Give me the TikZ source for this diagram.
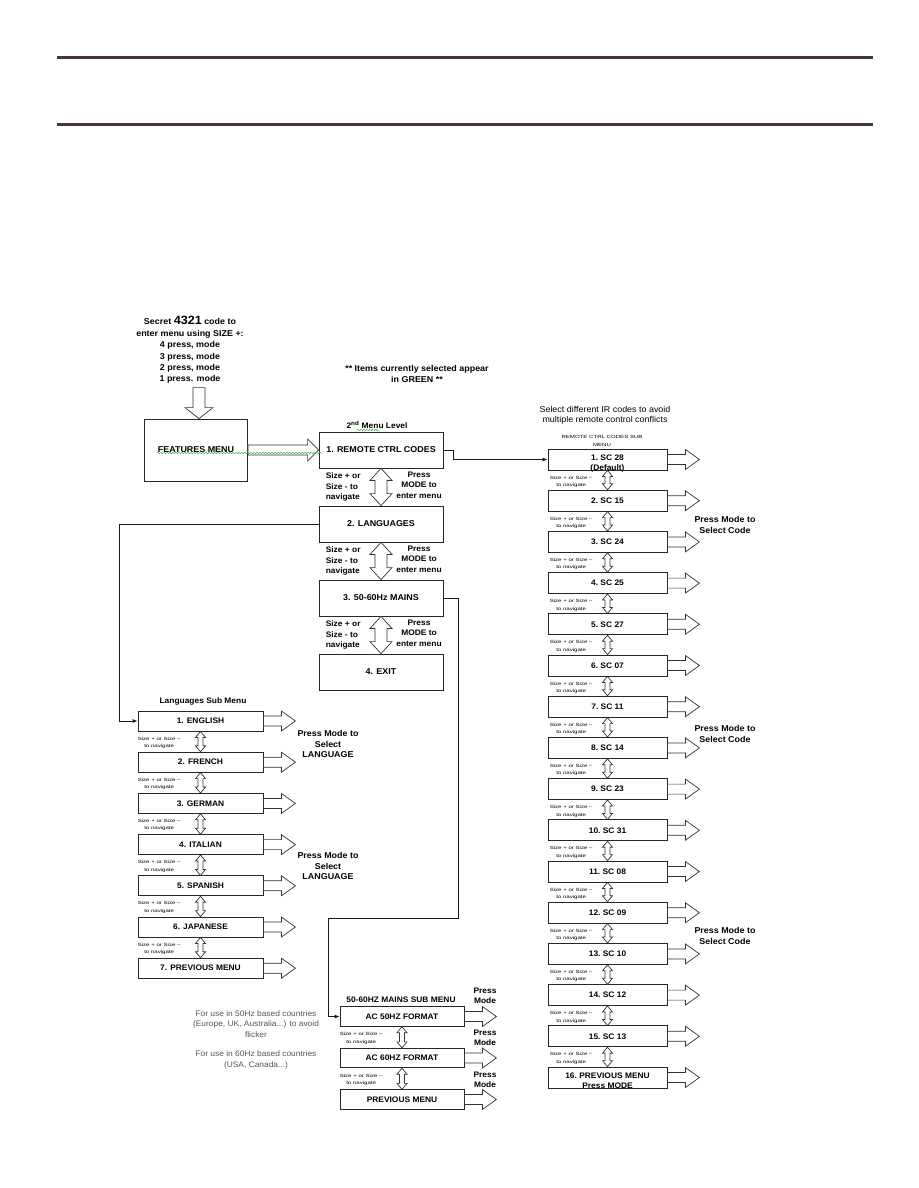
\documentclass[tikz,border=0pt]{standalone}
\usepackage{fontspec}
\setmainfont{Liberation Sans}[FakeStretch=1.05]
\newfontfamily\tinysf[FakeStretch=1.35]{Liberation Sans}
\usepackage{xcolor}
\usetikzlibrary{arrows.meta,positioning,calc,decorations.pathmorphing}

\definecolor{rulecol}{RGB}{72,52,60}
\definecolor{notegrey}{RGB}{85,85,85}
\definecolor{spellgreen}{RGB}{60,170,60}

% hollow double arrow between two stacked boxes
\newcommand{\updown}[5]{%
  \draw[blk] (#1.south) -- ++(#3,#5) -- ++(#4-#3,0) -- ($(#2.north)+(#4,-#5)$)
    -- ++(#3-#4,0) -- (#2.north) -- ++(-#3,-#5) -- ++(#3-#4,0)
    -- ($(#1.south)+(-#4,#5)$) -- ++(#4-#3,0) -- cycle;}
% two lines that hang low in a small box
\newcommand{\lowpair}[2]{\raisebox{-6.5pt}[4pt][4pt]{\begin{tabular}{@{}c@{}}#1\\[1pt]#2\end{tabular}}}

\begin{document}
\begin{tikzpicture}[
  x=1pt, y=-1pt,
  mainbox/.style={draw=black!85, line width=0.8pt, minimum width=124pt,
                  minimum height=36pt, inner sep=0pt,
                  font=\fontsize{8.5}{10}\selectfont\bfseries},
  langbox/.style={mainbox, minimum width=125pt, minimum height=20pt,
                  font=\fontsize{8}{9}\selectfont\bfseries},
  scbox/.style={langbox, minimum width=119pt, minimum height=21pt},
  acbox/.style={langbox, minimum width=124pt, minimum height=19.5pt},
  blk/.style={draw=black!80, line width=0.7pt, fill=white},
  conn/.style={draw=black!90, line width=0.8pt, -{Latex[length=5pt, width=4pt]}},
  navtxt/.style={font=\tinysf\fontsize{4.5}{7.5}\selectfont, align=center, inner sep=0pt},
  bignav/.style={font=\fontsize{8}{10.5}\selectfont\bfseries, align=left, inner sep=0pt},
  hint/.style={font=\fontsize{8.5}{10.5}\selectfont\bfseries, align=center, inner sep=0pt},
  remark/.style={font=\fontsize{8.5}{10}\selectfont, align=center, inner sep=0pt},
  rule/.style={draw=rulecol, line width=3pt},
  wavy/.style={draw=spellgreen, line width=0.5pt, decorate,
               decoration={snake, amplitude=0.6pt, segment length=3pt}},
  goarrow/.pic={\draw[blk] (0,-5) -- (18,-5) -- (18,-10) -- (32,0) -- (18,10)
                -- (18,5) -- (0,5) -- cycle;}
]
  \useasboundingbox (0,0) rectangle (918,1188);

  % header rules
  \draw[rule] (57,58) -- (873,58);
  \draw[rule] (57,125) -- (873,125);

  % entry
  \node[hint, font=\fontsize{8.5}{11.4}\selectfont\bfseries] (secret) at (190,350)
    {Secret {\fontsize{12}{12}\selectfont 4321} code to\\enter menu using SIZE +:\\
     4 press, mode\\3 press, mode\\2 press, mode\\1 press. mode};
  \node[hint] (items) at (417,374) {** Items currently selected appear\\in GREEN **};

  \node[mainbox, minimum width=103pt, minimum height=62pt] (feat) at (196,450) {FEATURES MENU};
  \draw[blk] ($(feat.north)+(3,0)$) -- ++(-14,-11) -- ++(8,0) -- ++(0,-20)
    -- ++(12,0) -- ++(0,20) -- ++(8,0) -- cycle;

  % 2nd menu level
  \node[hint, font=\fontsize{8}{10}\selectfont\bfseries] (level) at (377,425) {2\textsuperscript{nd} Menu Level};
  \node[mainbox] (remote) at (381,450) {1. REMOTE CTRL CODES};
  \node[mainbox, below=37.2pt of remote] (lang) {2. LANGUAGES};
  \node[mainbox, below=37.2pt of lang] (mains) {3. 50-60Hz MAINS};
  \node[mainbox, below=37.2pt of mains] (exit) {4. EXIT};

  \draw[blk] (feat.east) ++(0,-5) -- ($(remote.west)+(-11,-5)$) -- ++(0,-6)
    -- (remote.west) -- ++(-11,11) -- ++(0,-6) -- ($(feat.east)+(0,5)$) -- cycle;
  \draw[wavy] (157,453) -- (322,453);
  \draw[wavy] (357,430) -- (379,430);

  \foreach \a/\b in {remote/lang, lang/mains, mains/exit} {
    \node[bignav, anchor=west] (nav\a) at ($(\a.south west)!.5!(\b.north west)+(7,0)$)
      {Size + or\\Size - to\\navigate};
    \updown{\a}{\b}{11}{6}{12}
    \node[bignav, align=center] (press\a) at ($(\a.south)!.5!(\b.north)+(38,-2)$)
      {Press\\MODE to\\enter menu};
  }

  % languages sub menu
  \node[hint, font=\fontsize{8}{10}\selectfont\bfseries] (langtitle) at (203,701) {Languages Sub Menu};
  \node[langbox] (english) at (200.5,721) {1. ENGLISH};
  \node[langbox, below=20.4pt of english] (french) {2. FRENCH};
  \node[langbox, below=20.4pt of french] (german) {3. GERMAN};
  \node[langbox, below=20.4pt of german] (italian) {4. ITALIAN};
  \node[langbox, below=20.4pt of italian] (spanish) {5. SPANISH};
  \node[langbox, below=20.4pt of spanish] (japanese) {6. JAPANESE};
  \node[langbox, below=20.4pt of japanese] (langback) {7. PREVIOUS MENU};

  \foreach \a/\b in {english/french, french/german, german/italian,
                     italian/spanish, spanish/japanese, japanese/langback} {
    \node[navtxt, anchor=west] (nav\a) at ($(\a.south west)!.5!(\b.north west)+(0,1)$)
      {Size + or Size \textendash\\to navigate};
    \updown{\a}{\b}{5}{2.5}{6}
  }
  \node[hint] (pickA) at (328,744) {Press Mode to\\Select\\LANGUAGE};
  \node[hint] (pickB) at (328,866) {Press Mode to\\Select\\LANGUAGE};

  % remote ctrl codes sub menu
  \node[remark] (irnote) at (605,415) {Select different IR codes to avoid\\multiple remote control conflicts};
  \node[navtxt] (sctitle) at (602,441) {REMOTE CTRL CODES SUB\\MENU};
  \node[scbox] (sc1) at (607.5,459.5) {\lowpair{1.\ SC 28}{(Default)}};
  \foreach \i/\c in {2/15, 3/24, 4/25, 5/27, 6/07, 7/11, 8/14, 9/23, 10/31,
                     11/08, 12/09, 13/10, 14/12, 15/13} {
    \pgfmathtruncatemacro\prv{\i-1}
    \node[scbox, below=19.4pt of sc\prv] (sc\i) {\i.\ SC \c};
  }
  \node[scbox, below=19.4pt of sc15] (sc16) {\lowpair{16.\ PREVIOUS MENU}{Press MODE}};
  \foreach \i in {1,...,15} {
    \pgfmathtruncatemacro\nxt{\i+1}
    \node[navtxt, anchor=west] (navsc\i) at ($(sc\i.south west)!.5!(sc\nxt.north west)+(2,1.5)$)
      {Size + or Size \textendash\\to navigate};
    \updown{sc\i}{sc\nxt}{5}{2.5}{6}
  }
  \node[hint] (codeA) at (725,525) {Press Mode to\\Select Code};
  \node[hint] (codeB) at (725,734) {Press Mode to\\Select Code};
  \node[hint] (codeC) at (725,936) {Press Mode to\\Select Code};

  % mains sub menu
  \node[hint, font=\fontsize{8}{10}\selectfont\bfseries] (actitle) at (401,1000) {50-60HZ MAINS SUB MENU};
  \node[acbox] (ac50) at (402,1016.5) {AC 50HZ FORMAT};
  \node[acbox, below=21.2pt of ac50] (ac60) {AC 60HZ FORMAT};
  \node[acbox, below=21.2pt of ac60] (acback) {PREVIOUS MENU};
  \foreach \a/\b in {ac50/ac60, ac60/acback} {
    \node[navtxt, anchor=west] (nav\a) at ($(\a.south west)!.5!(\b.north west)+(0,1)$)
      {Size + or Size \textendash\\to navigate};
    \updown{\a}{\b}{5}{2.5}{6}
  }
  \node[hint, font=\fontsize{8}{10.5}\selectfont\bfseries] (modeA) at (485,996) {Press\\Mode};
  \node[hint, font=\fontsize{8}{10.5}\selectfont\bfseries] (modeB) at (485,1038) {Press\\Mode};
  \node[hint, font=\fontsize{8}{10.5}\selectfont\bfseries] (modeC) at (485,1080) {Press\\Mode};
  \node[remark, text=notegrey, font=\fontsize{8}{10.5}\selectfont] (use50) at (256,1024)
    {For use in 50Hz based countries\\(Europe, UK, Australia...) to avoid\\flicker};
  \node[remark, text=notegrey, font=\fontsize{8}{10.5}\selectfont] (use60) at (256,1060)
    {For use in 60Hz based countries\\(USA, Canada...)};

  % hollow arrows to the right
  \foreach \n in {english, french, german, italian, spanish, japanese, langback,
                  ac50, ac60, acback}
    \pic at (\n.east) {goarrow};
  \foreach \i in {1,...,16}
    \pic at (sc\i.east) {goarrow};

  % connectors into the sub menus
  \coordinate (bend) at (328,918);
  \draw[conn] (remote.east) -- ++(10,0) |- (sc1.west);
  \draw[conn] (lang.west) -- ++(-199,0) |- (english.west);
  \draw[conn] (mains.east) -- ++(15,0) |- (bend) |- (ac50.west);
\end{tikzpicture}
\end{document}
